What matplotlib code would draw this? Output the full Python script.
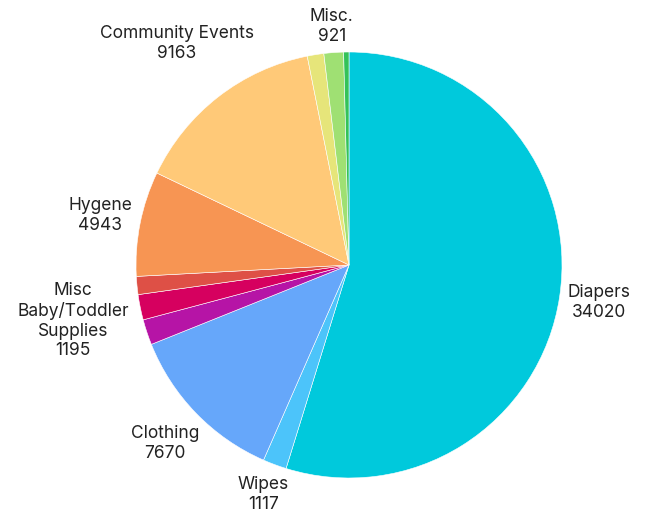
import matplotlib.pyplot as plt
import numpy as np

plt.rcParams['font.family'] = ['Inter', 'DejaVu Sans']

# slices clockwise from 12 o'clock; unlabeled slices have an empty name
categories = ["Diapers", "Wipes", "Clothing", "", "Misc\nBaby/Toddler\nSupplies",
              "", "Hygene", "Community Events", "", "Misc.", ""]
values = [34020, 1117, 7670, 1200, 1195, 850, 4943, 9163, 780, 921, 250]
colors = ["#00C9DC", "#4CC4FA", "#66A7FA", "#B614A6", "#D6005F", "#DE5046",
          "#F79553", "#FFC978", "#E6E57A", "#9FE073", "#33C25A"]

W, H = 645, 514
CX, CY, R = 349, 265, 213

fig = plt.figure(figsize=(W / 100, H / 100), dpi=100)
ax = fig.add_axes([0, 0, 1, 1])

wedges, _ = ax.pie(values, colors=colors, startangle=90, counterclock=False,
                   radius=1, wedgeprops=dict(edgecolor="white", linewidth=0.4))
ax.set_aspect("auto")
ax.set_xlim(-CX / R, (W - CX) / R)
ax.set_ylim(-(H - CY) / R, CY / R)
ax.axis("off")

fig.canvas.draw()
renderer = fig.canvas.get_renderer()
offset = 6 / R
for w, name, val in zip(wedges, categories, values):
    if not name:
        continue
    ang = np.deg2rad((w.theta1 + w.theta2) / 2)
    ux, uy = np.cos(ang), np.sin(ang)
    t = ax.text(0, 0, f"{name}\n{val}", ha="center", va="center",
                fontsize=12.5, color="#222222", linespacing=1.2)
    bb = t.get_window_extent(renderer)
    hw, hh = bb.width / 2 / R, bb.height / 2 / R
    d = 1 + offset + hw * abs(ux) + hh * abs(uy)
    t.set_position((ux * d, uy * d))

fig.savefig("out.png", dpi=100)
